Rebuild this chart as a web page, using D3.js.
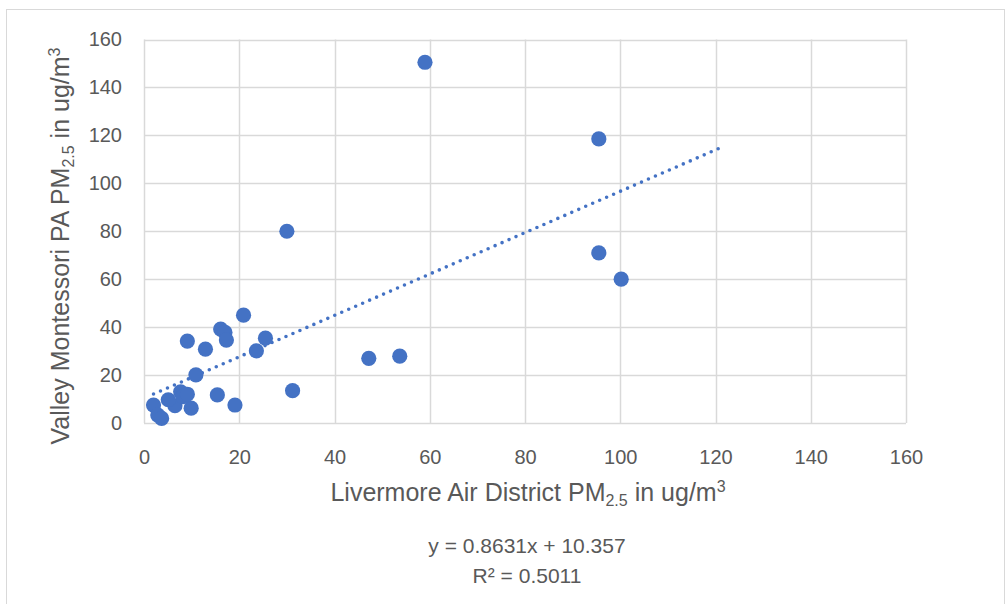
<!DOCTYPE html>
<html>
<head>
 <meta charset="UTF-8">
 <title>PM2.5 comparison</title>
 <script src="https://d3js.org/d3.v7.min.js"></script>
 <style>
  body { margin: 0; background: #fff; }
  text { font-family: "Liberation Sans", Arial, sans-serif; fill: #595959; }
 </style>
</head>
<body>
<script type="text/javascript">
// Livermore Air District (x) vs Valley Montessori PurpleAir (y), ug/m3
var livermore = [59, 95.5, 95.5, 100.2, 30, 20.9, 25.5, 23.6, 16.1, 17, 17.3, 9.1, 12.9, 10.9,
                 15.4, 19.1, 31.2, 47.2, 53.7, 9.9, 6.5, 5.1, 7.7, 8.2, 9.1, 2, 2.9, 3.7];
var montessori = [150.5, 118.5, 71, 60, 80, 45, 35.4, 30.1, 39.2, 37.8, 34.6, 34.2, 30.8, 20.1,
                  11.7, 7.5, 13.5, 27, 27.9, 6.2, 7.2, 9.7, 13, 11, 12, 7.5, 3.3, 1.9];
var xTicks = [0, 20, 40, 60, 80, 100, 120, 140, 160];
var yTicks = [0, 20, 40, 60, 80, 100, 120, 140, 160];
var trendCoef = [0.8631, 10.357];   // slope, intercept
var trendRange = [2, 121.5];
var eqLines = ["y = 0.8631x + 10.357", "R² = 0.5011"];

var width = 1005, height = 604;
var svg = d3.select('body').append('svg')
      .attr('width', width)
      .attr('height', height);

svg.append('rect')
   .attr('x', 6.5).attr('y', 9.5)
   .attr('width', 998).attr('height', 620)
   .attr('fill', '#fff')
   .attr('stroke', '#d9d9d9');

var x = d3.scaleLinear().domain([0, 160]).range([144, 906]);
var y = d3.scaleLinear().domain([0, 160]).range([423, 39.5]);

// gridlines
svg.append('g').selectAll('line').data(xTicks).enter().append('line')
   .attr('x1', function (d) { return Math.round(x(d)) + 0.5; })
   .attr('x2', function (d) { return Math.round(x(d)) + 0.5; })
   .attr('y1', y(160)).attr('y2', y(0))
   .attr('stroke', '#d9d9d9').attr('stroke-width', 1.5);
svg.append('g').selectAll('line').data(yTicks).enter().append('line')
   .attr('y1', function (d) { return Math.round(y(d)) + 0.5; })
   .attr('y2', function (d) { return Math.round(y(d)) + 0.5; })
   .attr('x1', x(0)).attr('x2', x(160))
   .attr('stroke', '#d9d9d9').attr('stroke-width', 1.5);

// axes (labels only)
var xAxis = svg.append('g').attr('transform', 'translate(0,' + y(0) + ')')
   .call(d3.axisBottom(x).tickValues(xTicks).tickSize(0).tickPadding(27));
var yAxis = svg.append('g').attr('transform', 'translate(' + x(0) + ',0)')
   .call(d3.axisLeft(y).tickValues(yTicks).tickSize(0).tickPadding(22));
[xAxis, yAxis].forEach(function (a) {
  a.select('.domain').remove();
  a.selectAll('text').style('font-size', '20px')
   .style('font-family', '"Liberation Sans", Arial, sans-serif').attr('fill', '#595959');
});

// trendline
var line = d3.line()
   .x(function (d) { return x(d); })
   .y(function (d) { return y(trendCoef[0] * d + trendCoef[1]); });
svg.append('path')
   .datum(trendRange)
   .attr('d', line)
   .attr('fill', 'none')
   .attr('stroke', '#4472c4')
   .attr('stroke-width', 3.6)
   .attr('stroke-linecap', 'round')
   .attr('stroke-dasharray', '0,7.6');

// points
var pts = livermore.map(function (d, i) { return [d, montessori[i]]; });
svg.append('g').selectAll('circle').data(pts).enter().append('circle')
   .attr('cx', function (d) { return x(d[0]); })
   .attr('cy', function (d) { return y(d[1]); })
   .attr('r', 7.6)
   .attr('fill', '#4472c4');

function titleText(t, label) {
  t.style('font-size', '25px').attr('text-anchor', 'middle');
  t.append('tspan').text(label);
  t.append('tspan').text('2.5').style('font-size', '16px').attr('dy', 5);
  t.append('tspan').text(' in ug/m').style('font-size', '25px').attr('dy', -5);
  t.append('tspan').text('3').style('font-size', '16px').attr('dy', -9);
}

// x title
titleText(svg.append('text').attr('x', 528).attr('y', 501), 'Livermore Air District PM');

// y title
titleText(svg.append('text').attr('transform', 'translate(69,246) rotate(-90)'), 'Valley Montessori PA PM');

// equation label
svg.append('g').selectAll('text').data(eqLines).enter().append('text')
   .attr('x', 527)
   .attr('y', function (d, i) { return 553 + i * 30; })
   .attr('text-anchor', 'middle')
   .style('font-size', '21px')
   .text(function (d) { return d; });
</script>
</body>
</html>
